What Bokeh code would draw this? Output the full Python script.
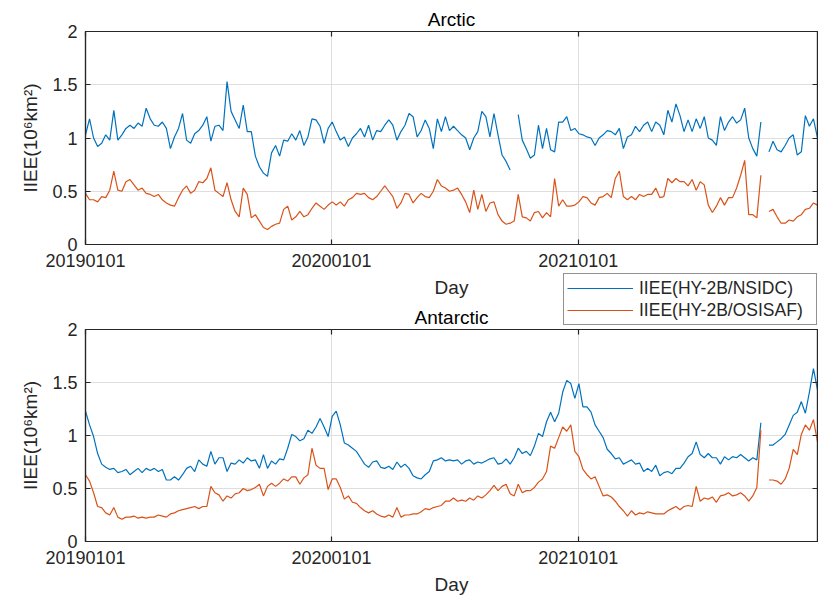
import numpy as np
from bokeh.plotting import figure
from bokeh.models import (ColumnDataSource, FixedTicker, Range1d, LinearAxis,
                          Title, Legend, LegendItem)
from bokeh.layouts import column
from bokeh.embed import file_html
from bokeh.resources import INLINE

# ---- data: integrated ice-edge error, 10^6 km^2, sampled every 6 days from 2019-01-01 ----
step_days = 6
tick_days = [0, 365, 731]
tick_labels = ["20190101", "20200101", "20210101"]
y_ticks = [0, 0.5, 1, 1.5, 2]
y_tick_labels = ["0", "0.5", "1", "1.5", "2"]
series_labels = ["IIEE(HY-2B/NSIDC)", "IIEE(HY-2B/OSISAF)"]
nan = float("nan")

arctic_nsidc = [
    1.03, 1.18, 1.00, 0.92, 0.95, 1.03, 0.98, 1.26, 0.98, 1.03,
    1.09, 1.12, 1.09, 1.14, 1.11, 1.28, 1.18, 1.12, 1.11, 1.15,
    1.09, 0.90, 1.01, 1.09, 1.23, 0.98, 0.95, 1.04, 1.07, 1.12,
    1.20, 0.97, 1.11, 1.12, 1.07, 1.53, 1.25, 1.17, 1.09, 1.31,
    1.06, 1.06, 0.83, 0.73, 0.67, 0.64, 0.86, 0.93, 0.83, 0.98,
    0.97, 1.04, 0.98, 1.07, 0.93, 1.01, 1.18, 1.17, 1.11, 0.95,
    1.09, 1.15, 1.06, 0.98, 1.01, 0.92, 1.00, 1.04, 1.09, 1.01,
    1.12, 0.98, 1.07, 1.06, 1.12, 1.17, 1.12, 0.98, 1.06, 1.12,
    1.23, 1.20, 1.01, 1.07, 1.17, 1.09, 0.90, 1.18, 1.06, 1.20,
    1.07, 1.11, 1.07, 1.03, 1.00, 0.89, 1.00, 1.06, 1.25, 1.20,
    1.01, 1.23, 1.03, 0.84, 0.78, 0.70, nan, 1.22, 0.98, 0.90,
    0.81, 0.84, 1.12, 0.90, 1.09, 0.89, 0.87, 1.15, 1.15, 1.20,
    1.07, 1.09, 1.04, 1.03, 1.01, 1.00, 0.93, 1.00, 1.03, 1.07,
    1.06, 1.03, 1.09, 0.90, 1.01, 1.03, 1.11, 1.06, 1.12, 1.15,
    1.06, 1.15, 1.12, 1.03, 1.26, 1.15, 1.32, 1.21, 1.06, 1.17,
    1.06, 1.18, 1.09, 1.20, 1.00, 0.98, 0.93, 1.20, 1.07, 1.15,
    1.20, 1.14, 1.17, 1.28, 1.00, 0.90, 0.83, 1.15, nan, 0.87,
    0.97, 0.89, 0.87, 0.93, 1.00, 1.03, 0.84, 0.87, 1.21, 1.11,
    1.18, 1.00,
]
arctic_osisaf = [
    0.48, 0.42, 0.42, 0.40, 0.45, 0.44, 0.51, 0.69, 0.51, 0.50,
    0.59, 0.61, 0.56, 0.51, 0.53, 0.48, 0.47, 0.45, 0.47, 0.42,
    0.39, 0.37, 0.36, 0.44, 0.51, 0.55, 0.48, 0.51, 0.59, 0.58,
    0.62, 0.72, 0.51, 0.48, 0.45, 0.58, 0.42, 0.31, 0.26, 0.53,
    0.47, 0.25, 0.28, 0.22, 0.16, 0.14, 0.17, 0.19, 0.20, 0.33,
    0.36, 0.23, 0.26, 0.31, 0.26, 0.28, 0.34, 0.39, 0.36, 0.33,
    0.37, 0.40, 0.37, 0.40, 0.36, 0.42, 0.44, 0.48, 0.47, 0.48,
    0.44, 0.42, 0.45, 0.50, 0.55, 0.50, 0.45, 0.34, 0.39, 0.48,
    0.47, 0.39, 0.44, 0.48, 0.45, 0.44, 0.50, 0.61, 0.55, 0.53,
    0.50, 0.51, 0.53, 0.47, 0.40, 0.30, 0.51, 0.33, 0.47, 0.31,
    0.39, 0.40, 0.28, 0.22, 0.19, 0.20, 0.22, 0.47, 0.26, 0.25,
    0.22, 0.30, 0.31, 0.25, 0.30, 0.26, 0.62, 0.36, 0.42, 0.36,
    0.36, 0.37, 0.40, 0.45, 0.44, 0.39, 0.37, 0.44, 0.45, 0.48,
    0.44, 0.62, 0.69, 0.45, 0.42, 0.45, 0.42, 0.47, 0.45, 0.47,
    0.47, 0.53, 0.44, 0.45, 0.62, 0.58, 0.62, 0.59, 0.59, 0.55,
    0.61, 0.51, 0.59, 0.56, 0.37, 0.30, 0.36, 0.44, 0.37, 0.44,
    0.44, 0.53, 0.65, 0.79, 0.28, 0.28, 0.25, 0.65, nan, 0.31,
    0.33, 0.26, 0.20, 0.20, 0.23, 0.22, 0.26, 0.28, 0.33, 0.34,
    0.39, 0.37,
]
antarctic_nsidc = [
    1.23, 1.10, 0.99, 0.83, 0.73, 0.70, 0.68, 0.69, 0.65, 0.66,
    0.68, 0.63, 0.66, 0.69, 0.65, 0.69, 0.67, 0.69, 0.66, 0.68,
    0.58, 0.58, 0.61, 0.58, 0.63, 0.69, 0.71, 0.66, 0.77, 0.73,
    0.71, 0.85, 0.73, 0.79, 0.79, 0.66, 0.74, 0.73, 0.77, 0.74,
    0.79, 0.76, 0.77, 0.69, 0.82, 0.69, 0.76, 0.73, 0.78, 0.77,
    0.88, 1.01, 0.99, 0.95, 0.97, 1.05, 1.02, 1.08, 1.16, 1.08,
    0.99, 1.18, 1.23, 1.10, 0.93, 0.91, 0.88, 0.85, 0.79, 0.73,
    0.70, 0.75, 0.76, 0.70, 0.69, 0.71, 0.68, 0.75, 0.70, 0.73,
    0.69, 0.62, 0.60, 0.59, 0.63, 0.66, 0.76, 0.77, 0.79, 0.76,
    0.77, 0.76, 0.77, 0.73, 0.76, 0.77, 0.73, 0.75, 0.74, 0.76,
    0.78, 0.79, 0.73, 0.74, 0.78, 0.73, 0.79, 0.88, 0.83, 0.85,
    0.81, 0.90, 1.02, 0.99, 1.13, 1.22, 1.13, 1.21, 1.41, 1.52,
    1.49, 1.35, 1.49, 1.27, 1.27, 1.22, 1.10, 1.04, 0.98, 0.87,
    0.83, 0.78, 0.79, 0.73, 0.75, 0.77, 0.73, 0.74, 0.66, 0.69,
    0.66, 0.72, 0.62, 0.65, 0.66, 0.64, 0.69, 0.69, 0.74, 0.80,
    0.83, 0.94, 0.82, 0.79, 0.83, 0.79, 0.79, 0.73, 0.80, 0.77,
    0.80, 0.79, 0.82, 0.79, 0.76, 0.79, 0.77, 1.12, nan, 0.91,
    0.91, 0.94, 0.97, 1.01, 1.10, 1.19, 1.22, 1.32, 1.21, 1.41,
    1.63, 1.43,
]
antarctic_osisaf = [
    0.63, 0.57, 0.46, 0.33, 0.32, 0.27, 0.25, 0.32, 0.23, 0.21,
    0.23, 0.23, 0.24, 0.22, 0.23, 0.22, 0.23, 0.23, 0.25, 0.24,
    0.23, 0.26, 0.27, 0.29, 0.30, 0.31, 0.32, 0.33, 0.31, 0.33,
    0.33, 0.52, 0.46, 0.44, 0.38, 0.43, 0.41, 0.45, 0.46, 0.50,
    0.48, 0.49, 0.51, 0.54, 0.43, 0.52, 0.55, 0.52, 0.55, 0.59,
    0.57, 0.61, 0.61, 0.54, 0.60, 0.63, 0.88, 0.72, 0.69, 0.69,
    0.49, 0.59, 0.59, 0.51, 0.40, 0.43, 0.37, 0.36, 0.32, 0.29,
    0.27, 0.29, 0.26, 0.24, 0.23, 0.25, 0.23, 0.32, 0.23, 0.25,
    0.25, 0.26, 0.26, 0.28, 0.31, 0.30, 0.32, 0.33, 0.34, 0.38,
    0.38, 0.41, 0.38, 0.39, 0.38, 0.41, 0.39, 0.43, 0.41, 0.44,
    0.48, 0.53, 0.48, 0.52, 0.54, 0.45, 0.43, 0.54, 0.46, 0.48,
    0.48, 0.51, 0.56, 0.59, 0.66, 0.90, 0.88, 0.98, 1.08, 1.04,
    1.10, 0.85, 0.80, 0.68, 0.63, 0.59, 0.61, 0.52, 0.43, 0.44,
    0.42, 0.38, 0.33, 0.29, 0.24, 0.29, 0.25, 0.27, 0.26, 0.28,
    0.27, 0.26, 0.26, 0.26, 0.29, 0.31, 0.33, 0.30, 0.33, 0.34,
    0.33, 0.52, 0.38, 0.41, 0.40, 0.42, 0.37, 0.43, 0.44, 0.46,
    0.43, 0.44, 0.46, 0.43, 0.38, 0.43, 0.51, 1.05, nan, 0.58,
    0.58, 0.57, 0.54, 0.59, 0.69, 0.87, 0.82, 1.01, 1.10, 1.05,
    1.15, 0.94,
]

days = np.arange(len(arctic_nsidc)) * step_days

FONT = "Liberation Sans"
INK = "#262626"
BLUE = "#0072BD"
ORANGE = "#D95319"
GRID = "#dedede"
LINE_W = 1.2


def style_axis(ax, ticks, labels, show_labels=True):
    ax.ticker = FixedTicker(ticks=ticks)
    ax.major_label_overrides = {t: (l if show_labels else "") for t, l in zip(ticks, labels)}
    ax.axis_line_color = INK
    ax.axis_line_width = 1.2
    ax.major_tick_line_color = INK
    ax.major_tick_line_width = 1.2
    ax.major_tick_in = 5
    ax.major_tick_out = 0
    ax.minor_tick_line_color = None
    ax.major_label_text_font = FONT
    ax.major_label_text_font_size = "18px"
    ax.major_label_text_color = INK
    ax.axis_label_text_font = FONT
    ax.axis_label_text_font_size = "19px"
    ax.axis_label_text_font_style = "normal"
    ax.axis_label_text_color = INK
    if not show_labels:
        ax.major_label_standoff = 0


def make_panel(name, nsidc, osisaf, height, top_border):
    p = figure(width=818, height=height, output_backend="svg", toolbar_location=None,
               title=None, x_range=Range1d(0, 1086), y_range=Range1d(0, 2),
               min_border_left=85, min_border_right=1,
               min_border_top=top_border, min_border_bottom=55)
    p.outline_line_color = INK
    p.outline_line_width = 1.2

    style_axis(p.xaxis[0], tick_days, tick_labels)
    p.xaxis[0].axis_label = "Day"
    p.xaxis[0].major_label_standoff = 9
    p.xaxis[0].axis_label_standoff = 7
    style_axis(p.yaxis[0], y_ticks, y_tick_labels)
    p.yaxis[0].axis_label = "IIEE(10\u2076km\u00b2)"
    p.yaxis[0].major_label_standoff = 8
    p.yaxis[0].axis_label_standoff = 8

    # box-style ticks on the top and right edges
    top_ax = LinearAxis()
    style_axis(top_ax, tick_days, tick_labels, show_labels=False)
    p.add_layout(top_ax, "above")
    right_ax = LinearAxis()
    style_axis(right_ax, y_ticks, y_tick_labels, show_labels=False)
    p.add_layout(right_ax, "right")

    p.add_layout(Title(text=name, align="center", text_font=FONT, text_font_size="19px",
                       text_font_style="normal", text_color="black", standoff=3), "above")

    p.xgrid[0].ticker = FixedTicker(ticks=tick_days)
    p.ygrid[0].ticker = FixedTicker(ticks=y_ticks)
    p.xgrid[0].grid_line_color = GRID
    p.ygrid[0].grid_line_color = GRID

    src = ColumnDataSource(dict(day=days, nsidc=nsidc, osisaf=osisaf))
    p.line("day", "nsidc", source=src, line_color=BLUE, line_width=LINE_W)
    p.line("day", "osisaf", source=src, line_color=ORANGE, line_width=LINE_W)
    return p


top = make_panel("Arctic", arctic_nsidc, arctic_osisaf, 300, 31)

# shared legend box that sits between the two panels; the column lines up
# plot frames, so this figure gets the same 85px left border as the panels
key = figure(width=343, height=52, output_backend="svg", toolbar_location=None,
             title=None, x_axis_type=None, y_axis_type=None,
             x_range=Range1d(0, 1), y_range=Range1d(0, 1),
             min_border_left=85, min_border_right=1, min_border_top=0, min_border_bottom=0)
key.outline_line_color = None
key.background_fill_color = None
key.border_fill_color = None
key_src = ColumnDataSource(dict(x=[nan], y=[nan]))
k1 = key.line("x", "y", source=key_src, line_color=BLUE, line_width=LINE_W)
k2 = key.line("x", "y", source=key_src, line_color=ORANGE, line_width=LINE_W)
legend = Legend(
    items=[LegendItem(label=series_labels[0], renderers=[k1]),
           LegendItem(label=series_labels[1], renderers=[k2])],
    location="top_left", orientation="vertical", margin=0, padding=3, spacing=0,
    border_line_color=INK, border_line_width=1,
    background_fill_color="white", background_fill_alpha=1,
    label_text_font=FONT, label_text_font_size="17.5px", label_text_color=INK,
    glyph_width=66, glyph_height=22, label_height=22, label_width=174, label_standoff=6,
)
key.add_layout(legend)
key.margin = (-27, 0, 0, 478)

bottom = make_panel("Antarctic", antarctic_nsidc, antarctic_osisaf, 327, 59)
bottom.border_fill_color = None
bottom.margin = (-55, 0, 0, 0)

page = column(top, key, bottom, spacing=0)
open("out.html", "w").write(file_html(page, INLINE))
